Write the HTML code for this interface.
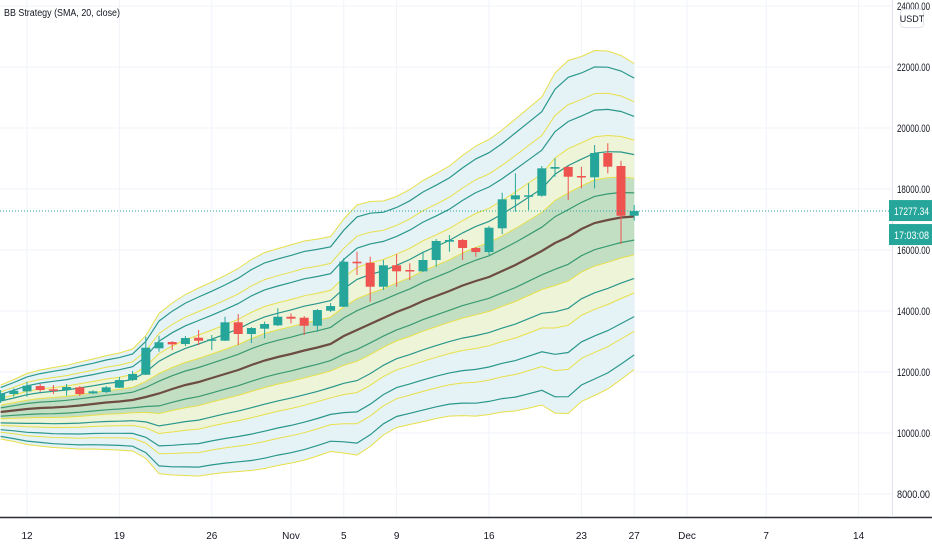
<!DOCTYPE html>
<html><head><meta charset="utf-8"><style>
html,body{margin:0;padding:0;background:#fff;width:932px;height:550px;overflow:hidden;font-family:"Liberation Sans",sans-serif}
svg text{font-family:"Liberation Sans",sans-serif}
</style></head><body>
<svg id="chart" width="932" height="550" xmlns="http://www.w3.org/2000/svg">
<g id="grid"></g>
<g id="bands"></g>
<g id="candles"></g>
<g id="axes"></g>
<text x="4" y="16" font-size="10" fill="#131722" textLength="116" lengthAdjust="spacingAndGlyphs">BB Strategy (SMA, 20, close)</text>
</svg>
<script>
const opens=[11058,11278,11366,11540,11432,11409,11497,11301,11344,11484,11737,11910,12776,12983,12917,13124,13049,13026,13629,13245,13419,13530,13812,13780,13517,14009,14140,15616,15583,14796,15498,15344,15301,15672,16272,16328,16065,15934,16711,17662,17780,17780,18665,18721,18426,18383,19180,18754,17124];
const highs=[11409,11465,11681,11606,11573,11606,11540,11399,11540,11835,12032,13157,13190,13016,13180,13376,13213,13812,13901,13474,13649,14088,13924,13835,14065,14261,15737,15944,15780,15672,15868,15563,15944,16360,16491,16360,16098,16786,17878,18514,18187,18754,19006,18754,18731,19443,19498,18928,17474];
const lows=[10983,11189,11189,11355,11278,11219,11212,11278,11311,11475,11704,11900,12665,12720,12851,12884,12720,13016,12884,12950,13104,13507,13596,13213,13320,13967,14130,15180,14304,14688,14796,15016,15278,15451,15944,15672,15780,15836,16524,17255,17311,17747,18403,17639,18022,18022,18514,16196,16966];
const closes=[11301,11386,11550,11409,11399,11507,11278,11366,11497,11737,11934,12796,12973,12907,13114,13026,13071,13629,13245,13442,13573,13812,13747,13517,14032,14163,15616,15563,14796,15498,15301,15311,15672,16295,16328,16065,15934,16731,17662,17793,17793,18678,18721,18403,18383,19180,18731,17124,17277];
const basis=[10688,10737,10786,10819,10835,10861,10901,10950,10999,11032,11081,11180,11294,11442,11573,11671,11802,11934,12065,12229,12376,12491,12590,12704,12803,12917,13180,13376,13573,13770,13967,14130,14327,14491,14655,14836,14983,15114,15311,15508,15737,15967,16229,16426,16688,16885,16983,17065,17098];
const devs=[221,254,291,312,328,340,357,369,385,398,418,504,656,705,742,771,787,807,832,865,885,889,894,898,889,881,959,1025,1004,959,947,963,988,1004,1025,1066,1107,1127,1156,1197,1230,1262,1394,1447,1414,1414,1385,1328,1254];
const priceTicks=[24000,22000,20000,18000,16000,14000,12000,10000,8000];
const dateLabels=["12","19","26","Nov","5","9","16","23","27","Dec","7","14"];
const dateDays=[2,9,16,22,26,30,37,44,48,52,58,65];
const lastPrice=17277.34;

const NS="http://www.w3.org/2000/svg";
const yS=v=>128+(20000-v)*0.0305;
const xS=d=>0.6+13.2*d;
function mk(tag,attrs,parent){const e=document.createElementNS(NS,tag);for(const k in attrs)e.setAttribute(k,attrs[k]);parent.appendChild(e);return e;}
const grid=document.getElementById('grid'),bands=document.getElementById('bands'),cg=document.getElementById('candles'),ax=document.getElementById('axes');
const PR=892;
priceTicks.forEach(p=>{const y=yS(p);
 const l=mk('line',{x1:0,x2:PR,y1:y,y2:y,stroke:'#f0f3fa'},grid);
 
 
 const t=mk('text',{x:897,y:y+4,'font-size':'11',fill:'#131722',textLength:'33',lengthAdjust:'spacingAndGlyphs'},ax);t.textContent=p.toFixed(2);
 
 
});
dateDays.forEach((d,i)=>{const x=xS(d);
 const l=mk('line',{x1:x,x2:x,y1:0,y2:517,stroke:'#f0f3fa'},grid);
 
 
 const t=mk('text',{x:x,y:539,'font-size':'10',fill:'#131722','text-anchor':'middle'},ax);t.textContent=dateLabels[i];
 
 
});
function line(k){return basis.map((b,i)=>xS(i).toFixed(1)+','+yS(b+k*devs[i]).toFixed(1));}
function area(k1,k2){return line(k1).concat(line(k2).reverse()).join(' ');}
const fills=[[4,-4,'#e6f3f6'],[2,-2,'#eef4d8'],[1,-1,'#c2dfc4']];
fills.forEach(f=>{const p=mk('polygon',{points:area(f[0],f[1]),fill:f[2]},bands);
 
 });
const ks=[0.618,1,1.618,2,2.618,3,3.618,4];
ks.forEach(k=>[k,-k].forEach(kk=>{const yel=Number.isInteger(k);
 const p=mk('polyline',{points:line(kk).join(' '),fill:'none',stroke:yel?'#e8df4a':(k<1?'#3a9a70':'#2a978c'),'stroke-width':yel?1:1.2},bands);
 
 }));
const mid=mk('polyline',{points:line(0).join(' '),fill:'none',stroke:'#6d4c41','stroke-width':2.2},bands);


opens.forEach((o,i)=>{const c=closes[i],up=c>=o,col=up?'#26a69a':'#ef5350',x=xS(i);
 const w=mk('line',{x1:x,x2:x,y1:yS(highs[i]),y2:yS(lows[i]),stroke:col,'stroke-width':1},cg);
 
 
 const t=yS(Math.max(o,c)),b=yS(Math.min(o,c));
 const r=mk('rect',{x:x-4.5,y:t,width:9,height:Math.max(1.5,b-t),fill:col},cg);
 
 
});
const ly=yS(lastPrice);
const dl=mk('line',{x1:0,x2:PR,y1:ly,y2:ly,stroke:'#26a69a','stroke-dasharray':'1,2'},ax);


mk('line',{x1:0,x2:932,y1:517.5,y2:517.5,stroke:'#2a2e39','stroke-width':1.5},ax);
mk('line',{x1:PR+0.5,x2:PR+0.5,y1:0,y2:517,stroke:'#e0e3eb'},ax);
const pb=mk('rect',{x:889,y:ly-11,width:43,height:21,fill:'#26a69a'},ax);


const pt=mk('text',{x:894,y:ly+4,'font-size':'11',fill:'#fff',textLength:'35',lengthAdjust:'spacingAndGlyphs'},ax);pt.textContent=lastPrice.toFixed(2);


const cb=mk('rect',{x:889,y:ly+13,width:43,height:21,fill:'#26a69a'},ax);


const ct=mk('text',{x:894,y:ly+28,'font-size':'11',fill:'#fff',textLength:'35',lengthAdjust:'spacingAndGlyphs'},ax);ct.textContent='17:03:08';


const ub=mk('rect',{x:900.5,y:9.5,width:23,height:18,rx:3,fill:'#fff',stroke:'#e0e3eb'},ax);


const ut=mk('text',{x:912,y:22,'font-size':'9',fill:'#131722','text-anchor':'middle'},ax);ut.textContent='USDT';


</script>
</body></html>
